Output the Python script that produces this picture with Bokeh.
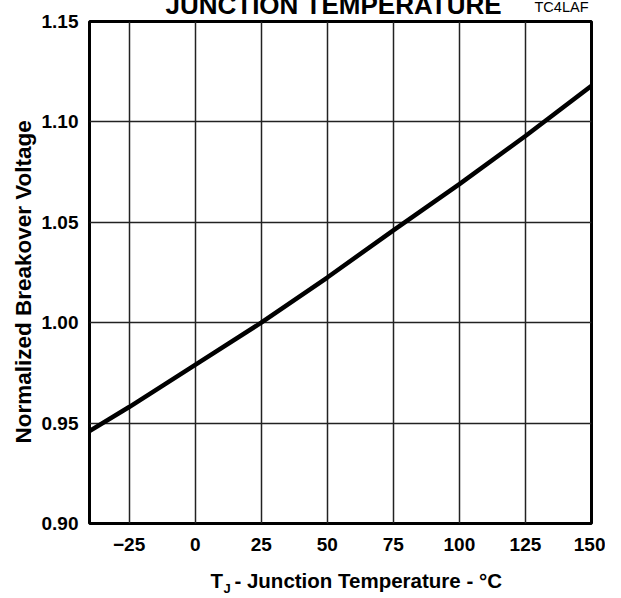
from bokeh.plotting import figure
from bokeh.models import Range1d, FixedTicker, NumeralTickFormatter, Label
from bokeh.embed import file_html
from bokeh.resources import INLINE

# Data
temps = [-40, -25, 0, 25, 50, 75, 100, 125, 150]
volts = [0.946, 0.958, 0.979, 1.000, 1.0225, 1.046, 1.069, 1.093, 1.118]
x_ticks = [-25, 0, 25, 50, 75, 100, 125, 150]
y_ticks = [0.90, 0.95, 1.00, 1.05, 1.10, 1.15]
title_text = "JUNCTION TEMPERATURE"
code_text = "TC4LAF"
y_label = "Normalized Breakover Voltage"
x_label_main = "T\u00a0\u00a0- Junction Temperature - °C"
x_label_sub = "J"

FONT = "Liberation Sans"
NB = "\u00a0"

p = figure(frame_width=502, frame_height=502, output_backend="svg", toolbar_location=None,
           x_range=Range1d(-40, 150), y_range=Range1d(0.90, 1.15),
           min_border_left=89, min_border_right=14, min_border_top=60, min_border_bottom=73,
           styles={"margin-top": "-39px"})

p.outline_line_color = "black"
p.outline_line_width = 3
p.background_fill_color = "white"
p.border_fill_color = "white"

for ax in (p.xaxis[0], p.yaxis[0]):
    ax.axis_line_color = None
    ax.major_tick_line_color = None
    ax.minor_tick_line_color = None
    ax.major_tick_out = 0
    ax.major_tick_in = 0
    ax.major_label_text_font = FONT
    ax.major_label_text_font_style = "bold"
    ax.major_label_text_font_size = "19px"
    ax.major_label_text_color = "black"

p.xaxis[0].ticker = FixedTicker(ticks=x_ticks)
p.yaxis[0].ticker = FixedTicker(ticks=y_ticks)
p.yaxis[0].formatter = NumeralTickFormatter(format="0.00")
p.xaxis[0].major_label_standoff = 14
p.yaxis[0].major_label_standoff = 11

p.yaxis[0].axis_label = y_label + NB * 3
p.yaxis[0].axis_label_text_font = FONT
p.yaxis[0].axis_label_text_font_style = "bold"
p.yaxis[0].axis_label_text_font_size = "22.5px"
p.yaxis[0].axis_label_text_color = "black"
p.yaxis[0].axis_label_standoff = 3

p.xgrid[0].ticker = FixedTicker(ticks=x_ticks)
p.ygrid[0].ticker = FixedTicker(ticks=y_ticks)
for g in (p.xgrid[0], p.ygrid[0]):
    g.grid_line_color = "#222222"
    g.grid_line_width = 1.5
    g.grid_line_alpha = 1.0

p.line(temps, volts, line_color="black", line_width=4.5)

# Title (cut off at the top of the page, as in the reference)
p.add_layout(Label(x=52.35, y=1.158, text=title_text, text_align="center",
                   text_baseline="alphabetic", text_font=FONT, text_font_style="bold",
                   text_font_size="26px", text_color="black"), "above")
p.add_layout(Label(x=148.86, y=1.157, text=code_text, text_align="right",
                   text_baseline="alphabetic", text_font=FONT,
                   text_font_size="14.5px", text_color="black"), "above")

# X axis label with subscript
p.add_layout(Label(x=5.8, y=0.8716, text=x_label_main, text_align="left",
                   text_baseline="alphabetic", text_font=FONT, text_font_style="bold",
                   text_font_size="20.5px", text_color="black"), "below")
p.add_layout(Label(x=10.72, y=0.8676, text=x_label_sub, text_align="left",
                   text_baseline="alphabetic", text_font=FONT, text_font_style="bold",
                   text_font_size="13px", text_color="black"), "right")

open("out.html", "w").write(file_html(p, INLINE))
